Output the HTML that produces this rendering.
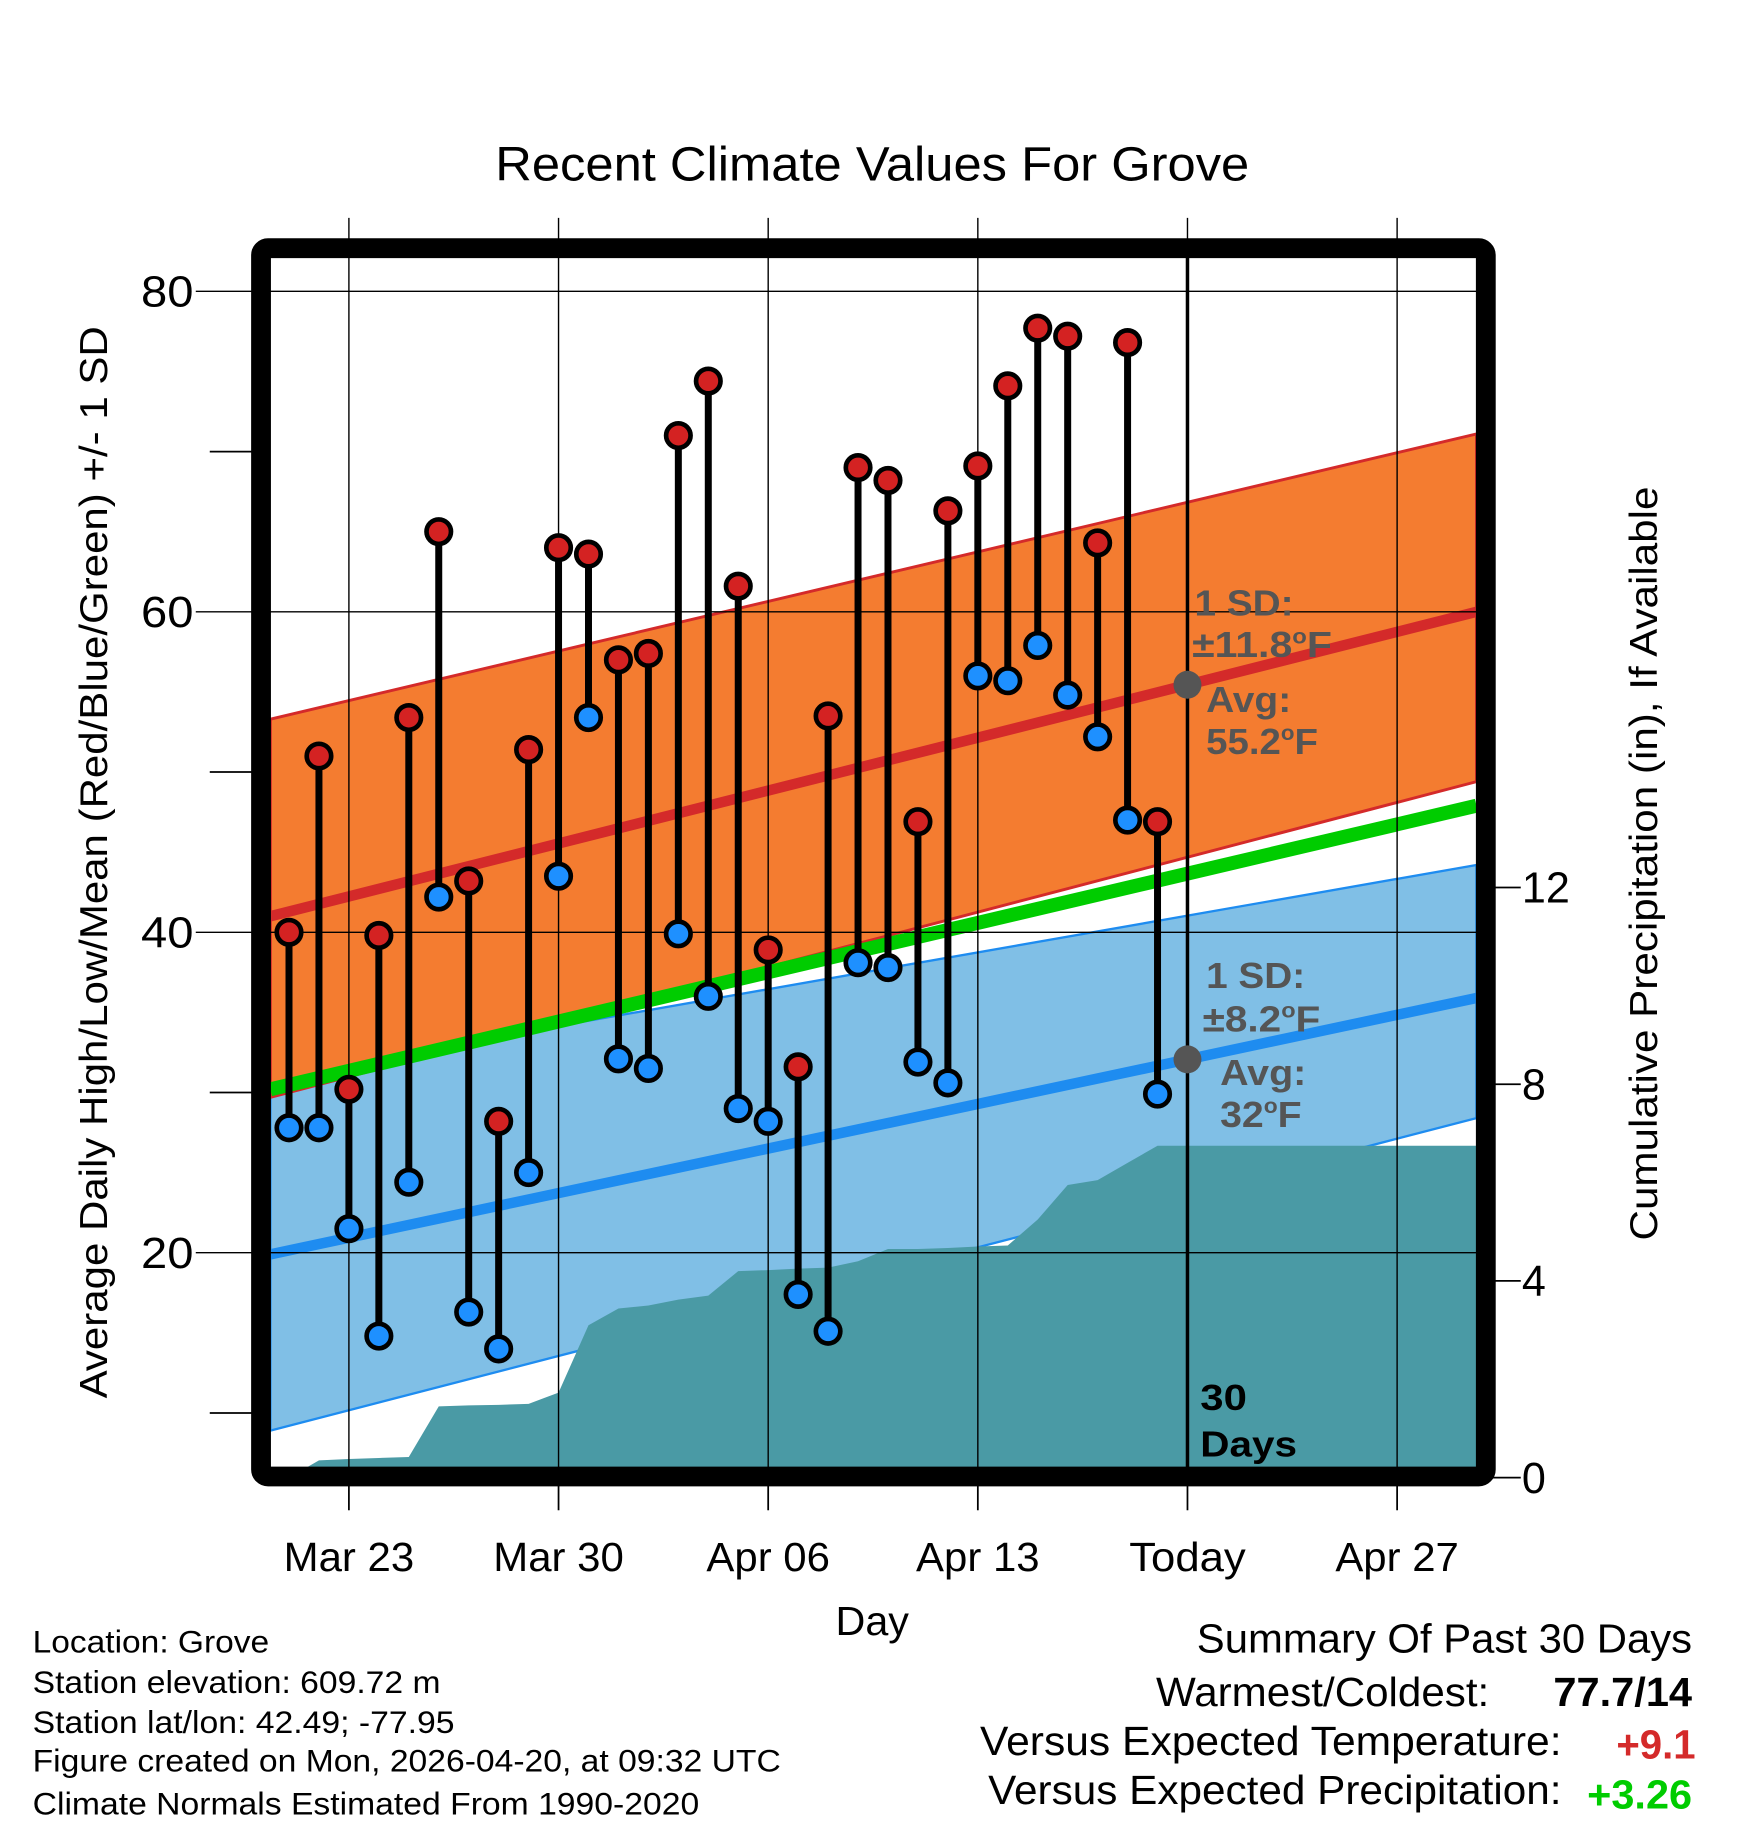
<!DOCTYPE html>
<html><head><meta charset="utf-8"><style>
html,body{margin:0;padding:0;background:#fff}
svg{display:block}
text{font-family:"Liberation Sans",sans-serif}
</style></head><body>
<svg id="chart" width="1748" height="1828" viewBox="0 0 1500 1568.65" xmlns="http://www.w3.org/2000/svg"></svg>
<script>
// ---- data ----
const days = ["Mar 21","Mar 22","Mar 23","Mar 24","Mar 25","Mar 26","Mar 27","Mar 28","Mar 29","Mar 30","Mar 31","Apr 01","Apr 02","Apr 03","Apr 04","Apr 05","Apr 06","Apr 07","Apr 08","Apr 09","Apr 10","Apr 11","Apr 12","Apr 13","Apr 14","Apr 15","Apr 16","Apr 17","Apr 18","Apr 19"];
const highs = [40,51,30.2,39.8,53.4,65,43.2,28.2,51.4,64,63.6,57,57.4,71,74.4,61.6,38.9,31.6,53.5,69,68.2,46.9,66.3,69.1,74.1,77.7,77.2,64.3,76.8,46.9];
const lows = [27.8,27.8,21.5,14.8,24.4,42.2,16.3,14,25,43.5,53.4,32.1,31.5,39.9,36,29,28.2,17.4,15.1,38.1,37.8,31.9,30.6,56,55.7,57.9,54.8,52.2,47,29.9];
const precip = [0,0.35,0.38,0.4,0.42,1.45,1.47,1.48,1.5,1.73,3.1,3.44,3.5,3.62,3.7,4.2,4.22,4.25,4.27,4.4,4.65,4.65,4.67,4.7,4.72,5.25,5.95,6.05,6.4,6.75];
// normals at left / right plot edges
const hiMean = [41,60], hiTop = [53.3,71.1], hiBot = [29.7,49.4];
const loMean = [19.9,35.9], loTop = [31,44.2], loBot = [8.9,28.4];
const avgMean = [30.2,47.9];
const xTickLabels = ["Mar 23","Mar 30","Apr 06","Apr 13","Today","Apr 27"];
const xTickDays = [2,9,16,23,30,37];
const yTicks = [20,40,60,80];
const yMinor = [10,30,50,70];
const pTicks = [0,4,8,12];

// ---- scales ----
const L=232,R=1267,T=221,B=1259;
const dayW=25.7, x0=248;
const x = d => x0 + d*dayW;
const y = v => 250 + (80-v)*13.75;
const yp = p => 1268 - 42.2*p;
const dL=(L-x0)/dayW, dR=(R-x0)/dayW;
const todayD=30;

const svg=document.getElementById('chart');
const NS='http://www.w3.org/2000/svg';
function el(tag,attrs,parent){const e=document.createElementNS(NS,tag);for(const k in attrs)e.setAttribute(k,attrs[k]);(parent||svg).appendChild(e);return e;}
function lin(arr,d){return arr[0]+(arr[1]-arr[0])*(d-dL)/(dR-dL);}

let e=el('polygon',{points:`${L},${y(loTop[0])} ${R},${y(loTop[1])} ${R},${y(loBot[1])} ${L},${y(loBot[0])}`,fill:'#80bfe6',stroke:'#1e8cf0','stroke-width':2});


e=el('line',{x1:L,y1:y(loMean[0]),x2:R,y2:y(loMean[1]),stroke:'#1e8cf0','stroke-width':9});


e=el('polygon',{points:`${L},${y(hiTop[0])} ${R},${y(hiTop[1])} ${R},${y(hiBot[1])} ${L},${y(hiBot[0])}`,fill:'#f47c30',stroke:'#d42a2a','stroke-width':2.5});


e=el('line',{x1:L,y1:y(hiMean[0]),x2:R,y2:y(hiMean[1]),stroke:'#d42a2a','stroke-width':9});


e=el('line',{x1:L,y1:y(avgMean[0]),x2:R,y2:y(avgMean[1]),stroke:'#00cc00','stroke-width':12});



let pts=`${L},${B} ${L},${yp(precip[0])} `;
precip.forEach((p,i)=>{pts+=`${x(i)},${yp(p)} `;});
pts+=`${R},${yp(precip[precip.length-1])} ${R},${B}`;
e=el('polygon',{points:pts,fill:'#4a9aa5'});



const xLabW=[112,112,106,106,100,106];
xTickDays.forEach((d,i)=>{
  const g=el('line',{x1:x(d),y1:187,x2:x(d),y2:B,stroke:'#000','stroke-width':1.2});
  
  
  const t=el('line',{x1:x(d),y1:1275,x2:x(d),y2:1296,stroke:'#000','stroke-width':1.5});
  
  
});
yTicks.forEach(v=>{
  const g=el('line',{x1:168,y1:y(v),x2:R,y2:y(v),stroke:'#000','stroke-width':1.2});
  
  
  const t=el('text',{x:166,y:y(v)+13,'text-anchor':'end','font-size':37,textLength:45,lengthAdjust:'spacingAndGlyphs'});
  t.textContent=v;
  
  
});
yMinor.forEach(v=>{
  const g=el('line',{x1:180,y1:y(v),x2:220,y2:y(v),stroke:'#000','stroke-width':1.5});
  
  
});
pTicks.forEach(p=>{
  const g=el('line',{x1:1280,y1:yp(p),x2:1305,y2:yp(p),stroke:'#000','stroke-width':1.5});
  
  
  const t=el('text',{x:1306,y:yp(p)+13,'font-size':37});
  t.textContent=p;
  
  
});
xTickLabels.forEach((s,i)=>{
  const t=el('text',{x:x(xTickDays[i]),y:1348,'text-anchor':'middle','font-size':35,textLength:xLabW[i],lengthAdjust:'spacingAndGlyphs'});
  t.textContent=s;
  
  
});

e=el('line',{x1:x(todayD),y1:T,x2:x(todayD),y2:B,stroke:'#000','stroke-width':3});



highs.forEach((h,i)=>{
  const l=lows[i];
  const g=el('g',{});
  
  
  el('line',{x1:x(i),y1:y(h),x2:x(i),y2:y(l),stroke:'#000','stroke-width':6},g);
  const c1=el('circle',{cx:x(i),cy:y(h),r:10.5,fill:'#d42222',stroke:'#000','stroke-width':4},g);
  
  
  const c2=el('circle',{cx:x(i),cy:y(l),r:10.5,fill:'#1e90ff',stroke:'#000','stroke-width':4},g);
  
  
});

e=el('circle',{cx:x(todayD),cy:y(lin(hiMean,todayD)),r:12,fill:'#555'});


e=el('circle',{cx:x(todayD),cy:y(lin(loMean,todayD)),r:12,fill:'#555'});



e=el('rect',{x:224,y:213,width:1051,height:1054,rx:6,fill:'none',stroke:'#000','stroke-width':17});


</script>
<svg style="position:absolute;left:0;top:0" width="1748" height="1828" viewBox="0 0 1500 1568.65" xmlns="http://www.w3.org/2000/svg">
<g font-family="Liberation Sans, sans-serif" font-weight="bold" fill="#555" font-size="31" lengthAdjust="spacingAndGlyphs">
<text x="1025" y="528" textLength="85" lengthAdjust="spacingAndGlyphs">1 SD:</text>
<text x="1023" y="564" textLength="120" lengthAdjust="spacingAndGlyphs">±11.8<tspan dy="-12" font-size="18">o</tspan><tspan dy="12">F</tspan></text>
<text x="1035" y="611" textLength="73" lengthAdjust="spacingAndGlyphs">Avg:</text>
<text x="1035" y="647" textLength="96" lengthAdjust="spacingAndGlyphs">55.2<tspan dy="-12" font-size="18">o</tspan><tspan dy="12">F</tspan></text>
<text x="1035" y="848" textLength="85" lengthAdjust="spacingAndGlyphs">1 SD:</text>
<text x="1032" y="885" textLength="101" lengthAdjust="spacingAndGlyphs">±8.2<tspan dy="-12" font-size="18">o</tspan><tspan dy="12">F</tspan></text>
<text x="1047" y="931" textLength="74" lengthAdjust="spacingAndGlyphs">Avg:</text>
<text x="1047" y="967" textLength="70" lengthAdjust="spacingAndGlyphs">32<tspan dy="-12" font-size="18">o</tspan><tspan dy="12">F</tspan></text>
</g>
<g font-family="Liberation Sans, sans-serif" font-weight="bold" fill="#000" font-size="31">
<text x="1030" y="1210" textLength="40" lengthAdjust="spacingAndGlyphs">30</text>
<text x="1030" y="1250" textLength="83" lengthAdjust="spacingAndGlyphs">Days</text>
</g>
<g font-family="Liberation Sans, sans-serif" fill="#000">
<text x="425" y="155" textLength="647" lengthAdjust="spacingAndGlyphs" font-size="41">Recent Climate Values For Grove</text>
<text transform="translate(92,740) rotate(-90)" text-anchor="middle" textLength="920" lengthAdjust="spacingAndGlyphs" font-size="33">Average Daily High/Low/Mean (Red/Blue/Green) +/- 1 SD</text>
<text transform="translate(1422,741) rotate(-90)" text-anchor="middle" textLength="647" lengthAdjust="spacingAndGlyphs" font-size="33">Cumulative Precipitation (in), If Available</text>
<text x="717" y="1403" textLength="63" lengthAdjust="spacingAndGlyphs" font-size="35">Day</text>
<g font-size="27">
<text x="28" y="1418" textLength="203" lengthAdjust="spacingAndGlyphs">Location: Grove</text>
<text x="28" y="1453" textLength="350" lengthAdjust="spacingAndGlyphs">Station elevation: 609.72 m</text>
<text x="28" y="1487" textLength="362" lengthAdjust="spacingAndGlyphs">Station lat/lon: 42.49; -77.95</text>
<text x="28" y="1520" textLength="642" lengthAdjust="spacingAndGlyphs">Figure created on Mon, 2026-04-20, at 09:32 UTC</text>
<text x="28" y="1557" textLength="572" lengthAdjust="spacingAndGlyphs">Climate Normals Estimated From 1990-2020</text>
</g>
<g font-size="35">
<text x="1027" y="1418" textLength="425" lengthAdjust="spacingAndGlyphs">Summary Of Past 30 Days</text>
<text x="992" y="1464" textLength="286" lengthAdjust="spacingAndGlyphs">Warmest/Coldest:</text>
<text x="1333" y="1464" textLength="119" lengthAdjust="spacingAndGlyphs" font-weight="bold">77.7/14</text>
<text x="841" y="1506" textLength="499" lengthAdjust="spacingAndGlyphs">Versus Expected Temperature:</text>
<text x="1387" y="1509" textLength="68" lengthAdjust="spacingAndGlyphs" font-weight="bold" fill="#d42a2a">+9.1</text>
<text x="848" y="1548" textLength="492" lengthAdjust="spacingAndGlyphs">Versus Expected Precipitation:</text>
<text x="1362" y="1552" textLength="90" lengthAdjust="spacingAndGlyphs" font-weight="bold" fill="#00cc00">+3.26</text>
</g>
</g>
</svg>
</body></html>
